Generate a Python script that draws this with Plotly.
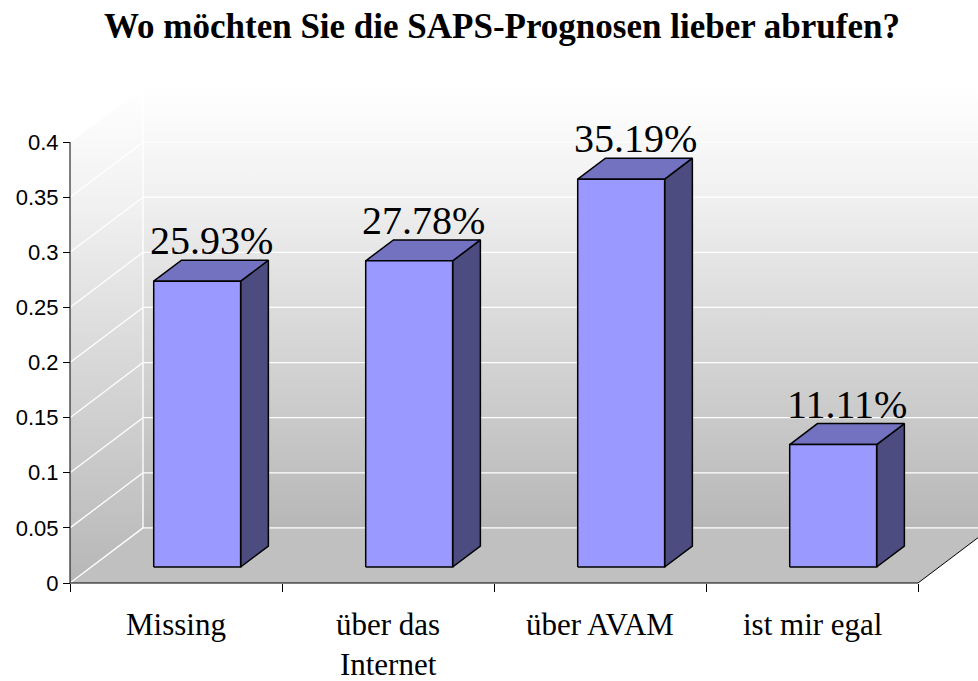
import plotly.graph_objects as go

# ---------------- data ----------------
categories = ["Missing", "über das<br>Internet", "über AVAM", "ist mir egal"]
values = [0.2593, 0.2778, 0.3519, 0.1111]
ytick_vals = [0, 0.05, 0.1, 0.15, 0.2, 0.25, 0.3, 0.35, 0.4]
ytick_text = ["0", "0.05", "0.1", "0.15", "0.2", "0.25", "0.3", "0.35", "0.4"]
title_text = "Wo möchten Sie die SAPS-Prognosen lieber abrufen?"

# ---------------- geometry / style ----------------
W, H = 978, 681
PX = 212.0          # pixels per category unit
PY = 1102.5         # pixels per value unit
DX = 73 / PX        # depth offset (x units)
DY = 0.05           # depth offset (value units)
F1, F2 = 0.29, 0.67 # bar depth position (fraction of depth)
BAR_W = 0.41
n = len(categories)
x_left, x_right = -0.5, n - 0.5
y_top = ytick_vals[-1]
wall_top = y_top + DY

L, T = 67, 87
ymin = -8 / PY
plot_h = (wall_top - ymin) * PY
B = H - T - plot_h
xmin = x_left - 3 / PX
xmax = xmin + (W - L) / PX
far = xmax + 1

FRONT, TOP, SIDE = "#9999ff", "#7272c0", "#4c4c80"
wall_scale = [[0, "#b7b7b7"], [0.5, "#dcdcdc"], [0.75, "#f0f0f0"], [1, "#ffffff"]]

fig = go.Figure()

# side wall
fig.add_trace(go.Scatter(
    x=[x_left, x_left, x_left + DX, x_left + DX, x_left],
    y=[0, y_top, wall_top, DY, 0],
    fill="toself", mode="lines", line=dict(width=0),
    fillgradient=dict(type="vertical", colorscale=wall_scale),
    hoverinfo="skip", showlegend=False))
# back wall
fig.add_trace(go.Scatter(
    x=[x_left + DX, x_left + DX, far, far, x_left + DX],
    y=[DY, wall_top, wall_top, DY, DY],
    fill="toself", mode="lines", line=dict(width=0),
    fillgradient=dict(type="vertical", colorscale=wall_scale),
    hoverinfo="skip", showlegend=False))
# floor
fig.add_trace(go.Scatter(
    x=[x_left, x_right, x_right + DX, far, far, x_left + DX, x_left],
    y=[0, 0, DY, DY, DY, DY, 0],
    fill="toself", mode="lines", line=dict(width=0), fillcolor="#c0c0c0",
    hoverinfo="skip", showlegend=False))

# gridlines (white)
gx, gy = [], []
for v in ytick_vals:
    gx += [x_left + DX, far, None, x_left, x_left + DX, None]
    gy += [v + DY, v + DY, None, v, v + DY, None]
gx += [x_left + DX, x_left + DX]
gy += [DY, wall_top]
fig.add_trace(go.Scatter(x=gx, y=gy, mode="lines",
                         line=dict(color="#ffffff", width=1.3),
                         hoverinfo="skip", showlegend=False))

# axis lines + floor right edge
fig.add_trace(go.Scatter(
    x=[x_left, x_left, None, x_left, x_right, x_right + DX],
    y=[y_top, 0, None, 0, 0, DY],
    mode="lines", line=dict(color="#000000", width=1),
    hoverinfo="skip", showlegend=False))

# bars (front, top, side faces)
fx, fy, tx, ty, sx, sy = [], [], [], [], [], []
a_x, a_y = F1 * DX, F1 * DY
d_x, d_y = (F2 - F1) * DX, (F2 - F1) * DY
for i, v in enumerate(values):
    xl = i - BAR_W / 2 + a_x
    xr = i + BAR_W / 2 + a_x
    yb = a_y
    yt = a_y + v
    fx += [xl, xr, xr, xl, xl, None]
    fy += [yb, yb, yt, yt, yb, None]
    tx += [xl, xr, xr + d_x, xl + d_x, xl, None]
    ty += [yt, yt, yt + d_y, yt + d_y, yt, None]
    sx += [xr, xr + d_x, xr + d_x, xr, xr, None]
    sy += [yb, yb + d_y, yt + d_y, yt, yb, None]
for xs, ys, col in [(sx, sy, SIDE), (tx, ty, TOP), (fx, fy, FRONT)]:
    fig.add_trace(go.Scatter(x=xs, y=ys, fill="toself", mode="lines",
                             fillcolor=col, line=dict(color="#000000", width=1.5),
                             hoverinfo="skip", showlegend=False))

# data labels
for i, v in enumerate(values):
    fig.add_annotation(x=i + (F1 + F2) / 2 * DX, y=v + F2 * DY,
                       xref="x", yref="y", text=f"{v * 100:.2f}%", showarrow=False,
                       yanchor="bottom", xanchor="center", yshift=-5,
                       font=dict(family="Liberation Serif", size=40, color="#000000"))

# category labels
for i, c in enumerate(categories):
    fig.add_annotation(x=i, y=0, xref="x", yref="y", text=c, showarrow=False,
                       yanchor="top", xanchor="center", yshift=-22, align="center",
                       font=dict(family="Liberation Serif", size=31, color="#000000"))

fig.update_layout(
    template="none",
    width=W, height=H,
    margin=dict(l=L, r=0, t=T, b=B, autoexpand=False),
    paper_bgcolor="#ffffff", plot_bgcolor="#ffffff",
    title=dict(text=title_text, xref="container", yref="container",
               x=502 / W, xanchor="center", y=1 - 13 / H, yanchor="top",
               font=dict(family="Liberation Serif", size=35, color="#000000", weight="bold")),
    xaxis=dict(range=[xmin, xmax], tickvals=[x_left + k for k in range(n + 1)],
               ticks="outside", ticklen=8, tickcolor="#000000", tickwidth=1,
               showticklabels=False, showgrid=False, zeroline=False, showline=False,
               automargin=False,
               anchor="free", position=(0 - ymin) / (wall_top - ymin)),
    yaxis=dict(range=[ymin, wall_top], tickvals=ytick_vals, ticktext=ytick_text,
               ticks="outside", ticklen=7, tickcolor="#000000", tickwidth=1,
               tickfont=dict(family="Liberation Sans", size=22, color="#000000"),
               showgrid=False, zeroline=False, showline=False, automargin=False,
               anchor="free", position=(x_left - xmin) / (xmax - xmin)),
    showlegend=False,
)

fig.write_html("out.html", config={"displayModeBar": False},
               post_script="document.body.style.margin='0';document.body.style.padding='0';")
